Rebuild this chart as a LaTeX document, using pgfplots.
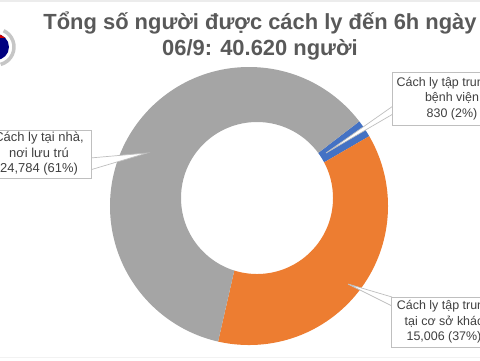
\documentclass[border=0pt]{standalone}
\usepackage{pgfplots}
\pgfplotsset{compat=1.18}
\usepackage{pgfplotstable}
\usetikzlibrary{calc}
\usepackage{fontspec}
\setmainfont{Liberation Sans}

\definecolor{cgray}{HTML}{A5A5A5}
\definecolor{corange}{HTML}{ED7D31}
\definecolor{cblue}{HTML}{4472C4}
\definecolor{ctitle}{HTML}{595959}
\definecolor{clabel}{HTML}{404040}
\definecolor{cborder}{HTML}{BFBFBF}

% data: value of each slice (clockwise from the start angle)
\pgfplotstableread{
name value
hospital 830
facility 15006
home 24784
}\piedata
\pgfplotstablegetelem{0}{value}\of\piedata \let\vA\pgfplotsretval
\pgfplotstablegetelem{1}{value}\of\piedata \let\vB\pgfplotsretval
\pgfplotstablegetelem{2}{value}\of\piedata \let\vC\pgfplotsretval
\edef\total{\fpeval{\vA+\vB+\vC}}
\edef\aS{37.5}
\edef\aA{\fpeval{\aS-360*\vA/\total}}
\edef\aB{\fpeval{\aA-360*\vB/\total}}
\edef\aC{\fpeval{\aB-360*\vC/\total}}
\edef\mA{\fpeval{(\aS+\aA)/2}}
\edef\mB{\fpeval{(\aA+\aB)/2}}
\edef\mC{\fpeval{(\aB+\aC)/2}}
\def\Ro{139}\def\Ri{76}\def\ex{5}

% one ring segment: #1 colour, #2 start angle, #3 end angle, #4 mid angle
\newcommand\ringslice[4]{%
  \begin{scope}[shift={(#4:\ex bp)}]
    \clip (C1) -- ($(C1)+(#3:320bp)$) arc[start angle=#3, end angle=#2, radius=320bp] -- cycle;
    \fill[#1, even odd rule] (C1) circle[radius=\Ro bp] (C0) circle[radius=\Ri bp];
  \end{scope}}

\begin{document}
\begin{tikzpicture}
\begin{axis}[
  scale only axis, width=480bp, height=360bp,
  xmin=0, xmax=480, ymin=0, ymax=360, y dir=reverse,
  hide axis, clip=false]
\coordinate (C1) at (axis cs:249,206);
\coordinate (C0) at (axis cs:257,198);
% slices
\ringslice{cblue}{\aS}{\aA}{\mA}
\ringslice{corange}{\aA}{\aB}{\mB}
\ringslice{cgray}{\aB}{\aC}{\mC}

% callout pointers
\filldraw[fill=white, draw=cborder, line width=0.7bp]
  (axis cs:393,106) -- (axis cs:326,153) -- (axis cs:393,114);
\filldraw[fill=white, draw=cborder, line width=0.7bp]
  (axis cs:90,158) -- (axis cs:147,153) -- (axis cs:90,170);
\filldraw[fill=white, draw=cborder, line width=0.7bp]
  (axis cs:392,297) -- (axis cs:348,284) -- (axis cs:392,306);

% label boxes
\filldraw[fill=white, draw=cborder, line width=0.8bp]
  (axis cs:392,72) rectangle (axis cs:500,125);
\filldraw[fill=white, draw=cborder, line width=0.8bp]
  (axis cs:-20,130) rectangle (axis cs:91,178);
\filldraw[fill=white, draw=cborder, line width=0.8bp]
  (axis cs:391,297) rectangle (axis cs:500,347);

\node[align=center, text=clabel, font=\fontsize{12.5}{15.5}\selectfont, anchor=center]
  at (axis cs:452,98.5) {Cách ly tập trung tại\\bệnh viện\\830 (2\%)};
\node[align=center, text=clabel, font=\fontsize{13}{15.5}\selectfont, anchor=center]
  at (axis cs:39,154) {Cách ly tại nhà,\\nơi lưu trú\\24,784 (61\%)};
\node[align=center, text=clabel, font=\fontsize{12.5}{15.5}\selectfont, anchor=center]
  at (axis cs:444,322) {Cách ly tập trung\\tại cơ sở khác\\15,006 (37\%)};

% title
\node[anchor=base, text=ctitle, font=\fontsize{22}{26}\selectfont\bfseries]
  at (axis cs:260,29) {Tổng số người được cách ly đến 6h ngày};
\node[anchor=base, text=ctitle, font=\fontsize{22}{26}\selectfont\bfseries]
  at (axis cs:260,55) {06/9: 40.620 người};

% logo (partly cut off)
\fill[blue!50!black] (axis cs:-4,47) circle[radius=13bp];
\begin{scope}
\clip (axis cs:-4,47) circle[radius=13bp];
\fill[red!80!black] (axis cs:-20,25) rectangle (axis cs:20,38);
\end{scope}
\draw[gray!45, line width=3.5bp] ($(axis cs:-4,47)+(65:18bp)$) arc[start angle=65, end angle=-75, radius=18bp];

% frame lines
\fill[gray!15] (axis cs:0,0) rectangle (axis cs:480,2);
\fill[gray!10] (axis cs:0,357) rectangle (axis cs:480,358);

\coordinate (LL) at (axis cs:0,360);
\coordinate (UR) at (axis cs:480,0);
\end{axis}
\pgfresetboundingbox
\useasboundingbox (LL) rectangle (UR);
\end{tikzpicture}
\end{document}
